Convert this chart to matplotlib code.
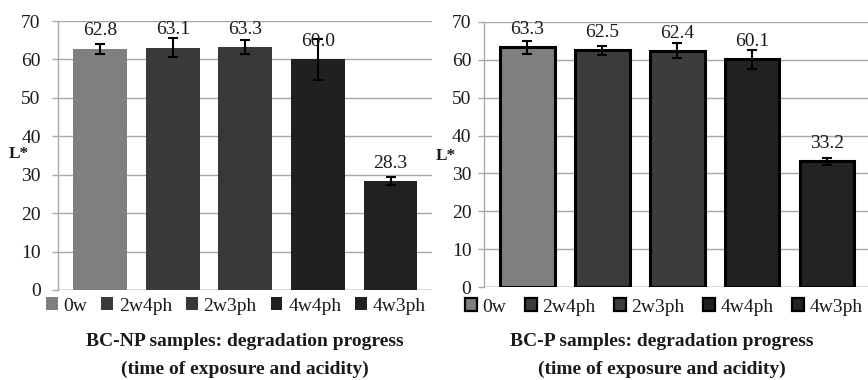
import matplotlib
matplotlib.use("Agg")
import matplotlib.pyplot as plt
from matplotlib.patches import Patch
from matplotlib.transforms import blended_transform_factory

plt.rcParams['font.family'] = ['Liberation Serif', 'DejaVu Serif']

categories = ["0w", "2w4ph", "2w3ph", "4w4ph", "4w3ph"]

np_values = [62.8, 63.1, 63.3, 60.0, 28.3]
np_errors = [1.3, 2.4, 1.8, 5.3, 1.0]
np_colors = ["#7f7f7f", "#3a3a3a", "#383838", "#202020", "#212121"]

p_values = [63.3, 62.5, 62.4, 60.1, 33.2]
p_errors = [1.8, 1.2, 2.0, 2.4, 0.9]
p_colors = ["#7f7f7f", "#3b3b3b", "#3c3c3c", "#212121", "#232323"]

yticks = [0, 10, 20, 30, 40, 50, 60, 70]

W, H = 868, 380
fig = plt.figure(figsize=(W / 100, H / 100), dpi=100)

TEXT = "#1a1a1a"
GRID = "#a8a8a8"
FS = 14


def panel(rect, values, errors, colors, edge, title_lines, title_x, legend_x, legend_y,
          ylab_x, ylab_y, ypad, colspace):
    l, b, r, t = rect
    ax = fig.add_axes([l / W, 1 - b / H, (r - l) / W, (b - t) / H])
    x = list(range(len(categories)))
    if edge:
        ax.bar(x, values, width=0.725, color=colors, edgecolor="black",
               linewidth=2.2, zorder=3)
    else:
        ax.bar(x, values, width=0.74, color=colors, linewidth=0, zorder=3)
    ax.errorbar(x, values, yerr=errors, fmt="none", ecolor="black", elinewidth=1.5,
                capsize=3.6, capthick=1.5, zorder=4)
    for xi, v in zip(x, values):
        ax.annotate(f"{v:.1f}", (xi, v), xytext=(0, 9.5), textcoords="offset points",
                    ha="center", va="baseline", fontsize=FS, color=TEXT, zorder=5)
    ax.set_xlim(-0.58, 4.57)
    ax.set_ylim(0, 70)
    ax.set_yticks(yticks)
    ax.set_xticks([])
    ax.yaxis.grid(True, color=GRID, linewidth=1.0, zorder=0)
    ax.set_axisbelow(True)
    for s in ("top", "right", "bottom"):
        ax.spines[s].set_visible(False)
    ax.spines["left"].set_color(GRID)
    ax.spines["left"].set_linewidth(1.0)
    ax.tick_params(axis="y", length=4.5, width=1.0, color=GRID, labelsize=FS,
                   labelcolor=TEXT, pad=ypad)
    ax.axhline(0, color=GRID, linewidth=1.0, zorder=1)

    tr = blended_transform_factory(fig.transFigure, ax.transData)
    ax.text(ylab_x / W, ylab_y, "L*", transform=tr, ha="center", va="center",
            fontsize=FS - 1.5, fontweight="bold", color=TEXT)

    handles = [Patch(facecolor=c, edgecolor="black" if edge else c,
                     linewidth=1.6 if edge else 0) for c in colors]
    ax.legend(handles, categories, ncol=5, loc="center",
              bbox_to_anchor=(legend_x / W, 1 - legend_y / H),
              bbox_transform=fig.transFigure, frameon=False, fontsize=FS,
              handlelength=0.6, handleheight=0.6, handletextpad=0.3,
              columnspacing=colspace, borderpad=0, borderaxespad=0, labelcolor=TEXT)

    fig.text(title_x / W, 1 - 342 / H, title_lines[0], ha="center", va="center",
             fontsize=FS, fontweight="bold", color=TEXT)
    fig.text(title_x / W, 1 - 369 / H, title_lines[1], ha="center", va="center",
             fontsize=FS, fontweight="bold", color=TEXT)
    return ax


panel((58, 290, 432, 21), np_values, np_errors, np_colors, False,
      ["BC-NP samples: degradation progress", "(time of exposure and acidity)"],
      245, 236, 306, 19, 35.3, 8, 0.72)

panel((484, 287, 870, 22), p_values, p_errors, p_colors, True,
      ["BC-P samples: degradation progress", "(time of exposure and acidity)"],
      662, 664, 307, 446, 34.6, 4.5, 0.95)

fig.savefig("out.png", dpi=100)
